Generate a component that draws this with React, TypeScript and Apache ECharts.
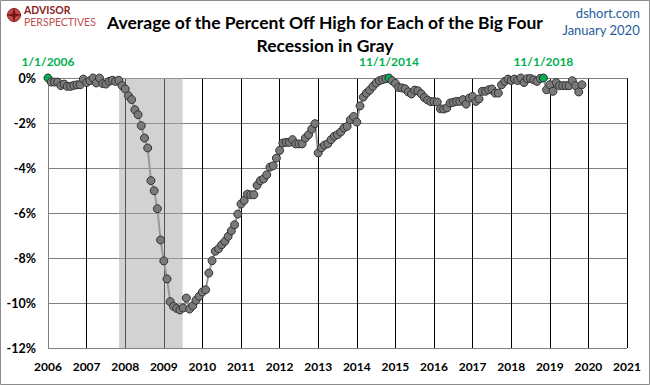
import React, { useEffect, useRef } from "react";
import * as echarts from "echarts";

// Percent off high, monthly values (Jan..Dec) per year
const v2006 = [0, -0.18, -0.18, -0.18, -0.34, -0.27, -0.37, -0.37, -0.33, -0.3, -0.3, -0.05];
const v2007 = [-0.2, -0.12, 0, -0.22, 0, -0.25, -0.27, -0.15, -0.1, -0.15, -0.1, -0.34];
const v2008 = [-0.49, -0.79, -0.96, -1.41, -1.63, -2.12, -2.67, -3.11, -4.56, -5.01, -5.81, -7.2];
const v2009 = [-8.13, -8.93, -9.94, -10.15, -10.24, -10.31, -10.22, -9.78, -10.27, -10.12, -9.88, -9.7];
const v2010 = [-9.51, -9.41, -8.67, -8.12, -7.7, -7.59, -7.41, -7.26, -7.04, -6.79, -6.52, -6.05];
const v2011 = [-5.6, -5.44, -5.16, -5.19, -5.19, -4.77, -4.56, -4.48, -4.3, -3.96, -3.9, -3.56];
const v2012 = [-3.22, -2.89, -2.86, -2.86, -2.74, -2.93, -2.93, -2.93, -2.67, -2.52, -2.27, -2.03];
const v2013 = [-3.33, -3.1, -2.98, -2.92, -2.74, -2.59, -2.52, -2.4, -2.22, -2.15, -1.86, -1.71];
const v2014 = [-1.96, -1.24, -0.85, -0.67, -0.54, -0.37, -0.22, -0.12, -0.07, -0.03, 0, -0.12];
const v2015 = [-0.24, -0.42, -0.44, -0.48, -0.62, -0.71, -0.54, -0.57, -0.7, -0.87, -0.98, -1.05];
const v2016 = [-1.05, -1.07, -1.37, -1.38, -1.33, -1.11, -1.08, -1.04, -1.04, -0.96, -1.16, -0.89];
const v2017 = [-0.82, -1.04, -0.93, -0.59, -0.59, -0.52, -0.49, -0.67, -0.67, -0.3, -0.15, -0.05];
const v2018 = [-0.11, -0.05, -0.11, 0, -0.2, -0.03, -0.02, -0.08, -0.15, -0.02, 0, -0.52];
const v2019 = [-0.3, -0.59, -0.2, -0.34, -0.34, -0.34, -0.34, -0.12, -0.34, -0.62, -0.3];

const yearStart = 2006;
const yearValues = [v2006, v2007, v2008, v2009, v2010, v2011, v2012, v2013, v2014, v2015, v2016, v2017, v2018, v2019];

// Dates of the highs (labelled in green)
const highDates = ["1/1/2006", "11/1/2014", "11/1/2018"];

// Recession shading (decimal years)
const recessionStart = 2007.84;
const recessionEnd = 2009.49;

const xMin = 2006;
const xMax = 2021;
const yMin = -12;
const yMax = 0;

const titleLine1 = "Average of the Percent Off High for Each of the Big Four";
const titleLine2 = "Recession in Gray";

const FONT = "Lato, 'Open Sans', sans-serif";

export default function App() {
  const ref = useRef<HTMLDivElement>(null);

  useEffect(() => {
    if (!ref.current) return;
    const chart = echarts.init(ref.current, null, { renderer: "svg" });

    const highKeys = highDates.map((d) => {
      const [m, , y] = d.split("/").map(Number);
      return { key: (y - yearStart) * 12 + (m - 1), label: d };
    });

    const data: any[] = [];
    yearValues.forEach((arr, yi) => {
      arr.forEach((v, m) => {
        const idx = yi * 12 + m;
        const x = yearStart + yi + m / 12;
        const h = highKeys.find((k) => k.key === idx);
        if (h) {
          data.push({
            value: [x, v],
            itemStyle: { color: "#00b050", borderColor: "#2a2a2a" },
            label: {
              show: true,
              position: "top",
              distance: 6,
              formatter: h.label,
              color: "#00b050",
              fontFamily: FONT,
              fontSize: 12,
              lineHeight: 12,
              fontWeight: "bold",
            },
          });
        } else {
          data.push({ value: [x, v] });
        }
      });
    });

    const titleStyle = {
      fontFamily: FONT,
      fontSize: 17.5,
      fontWeight: "bold",
      color: "#000000",
    };

    chart.setOption({
      animation: false,
      backgroundColor: "#ffffff",
      title: [
        {
          text: titleLine1,
          left: "center",
          top: 12,
          padding: 0,
          textStyle: { ...titleStyle, lineHeight: 20 },
        },
        {
          text: titleLine2,
          left: "center",
          top: 36,
          padding: 0,
          textStyle: { ...titleStyle, lineHeight: 18 },
        },
      ],
      graphic: [
        {
          type: "rect",
          shape: { x: 0.5, y: 0.5, width: 649, height: 384 },
          style: { fill: "none", stroke: "#8c8c8c", lineWidth: 1 },
          silent: true,
        },
        {
          type: "circle",
          shape: { cx: 14, cy: 15, r: 6.5 },
          style: { fill: "#c0504d", stroke: "#8b1c1c", lineWidth: 1 },
        },
        {
          type: "polygon",
          shape: {
            points: [
              [14, 7], [15.5, 13.5], [22, 15], [15.5, 16.5], [14, 23], [12.5, 16.5], [6, 15], [12.5, 13.5],
            ],
          },
          style: { fill: "#7a1515" },
        },
        {
          type: "text",
          x: 24,
          y: 4,
          style: {
            text: "ADVISOR",
            fill: "#8b1c1c",
            font: `bold 10.5px ${FONT}`,
          },
        },
        {
          type: "text",
          x: 24,
          y: 16,
          style: {
            text: "PERSPECTIVES",
            fill: "#c0504d",
            font: `10.5px ${FONT}`,
          },
        },
        {
          type: "text",
          right: 10,
          top: 6,
          style: {
            text: "dshort.com",
            fill: "#1f5d99",
            font: `13px ${FONT}`,
            align: "right",
          },
        },
        {
          type: "text",
          right: 10,
          top: 23,
          style: {
            text: "January 2020",
            fill: "#1f5d99",
            font: `13px ${FONT}`,
            align: "right",
          },
        },
      ],
      grid: { left: 48, right: 23, top: 78, bottom: 37, containLabel: false },
      xAxis: {
        type: "value",
        min: xMin,
        max: xMax,
        interval: 1,
        axisLine: { show: true, lineStyle: { color: "#808080", width: 1 } },
        axisTick: { show: false },
        axisLabel: {
          formatter: (v: number) => String(v),
          fontFamily: FONT,
          fontSize: 12,
          fontWeight: "bold",
          color: "#000000",
          margin: 12,
        },
        splitLine: {
          show: true,
          showMinLine: false,
          lineStyle: { color: "#000000", width: 1 },
        },
      },
      yAxis: {
        type: "value",
        min: yMin,
        max: yMax,
        interval: 2,
        axisLine: { show: true, lineStyle: { color: "#808080", width: 1 } },
        axisTick: { show: false },
        axisLabel: {
          formatter: (v: number) => `${v}%`,
          fontFamily: FONT,
          fontSize: 12.5,
          fontWeight: "bold",
          color: "#000000",
          margin: 12,
        },
        splitLine: { show: true, lineStyle: { color: "#808080", width: 1 } },
      },
      series: [
        {
          type: "line",
          data,
          symbol: "circle",
          symbolSize: 8,
          showAllSymbol: true,
          lineStyle: { color: "#999999", width: 2 },
          itemStyle: { color: "#7a7a7a", borderColor: "#333333", borderWidth: 1 },
          z: 3,
          markArea: {
            silent: true,
            itemStyle: { color: "rgba(166,166,166,0.5)" },
            data: [[{ xAxis: recessionStart }, { xAxis: recessionEnd }]],
          },
        },
      ],
    });

    return () => chart.dispose();
  }, []);

  return (
    <div
      ref={ref}
      style={{ position: "fixed", left: 0, top: 0, width: 650, height: 385 }}
    />
  );
}
